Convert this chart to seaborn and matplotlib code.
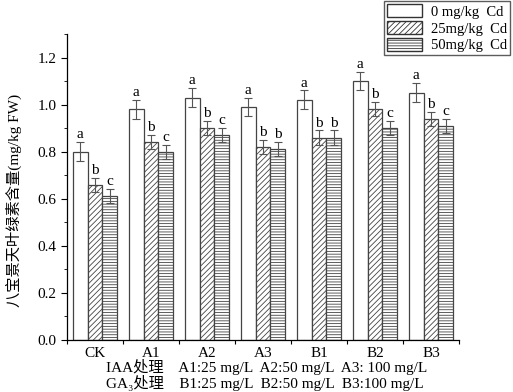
import numpy as np
import pandas as pd
import seaborn as sns
import matplotlib.pyplot as plt
from matplotlib.patches import Patch
from matplotlib.ticker import MultipleLocator

groups = ['CK', 'A1', 'A2', 'A3', 'B1', 'B2', 'B3']
levels = ['0 mg/kg  Cd', '25mg/kg  Cd', '50mg/kg  Cd']
cd0 = [0.80, 0.98, 1.03, 0.99, 1.02, 1.10, 1.05]
cd25 = [0.66, 0.84, 0.90, 0.82, 0.86, 0.98, 0.94]
cd50 = [0.61, 0.80, 0.87, 0.81, 0.86, 0.90, 0.91]
err0 = [0.04, 0.04, 0.04, 0.04, 0.04, 0.04, 0.04]
err25 = [0.03, 0.03, 0.03, 0.03, 0.03, 0.03, 0.03]
err50 = [0.03, 0.03, 0.03, 0.03, 0.03, 0.03, 0.03]
let0 = ['a', 'a', 'a', 'a', 'a', 'a', 'a']
let25 = ['b', 'b', 'b', 'b', 'b', 'b', 'b']
let50 = ['c', 'c', 'c', 'b', 'b', 'c', 'c']

df = pd.DataFrame({
    'group': groups * 3,
    'level': [levels[0]] * 7 + [levels[1]] * 7 + [levels[2]] * 7,
    'value': cd0 + cd25 + cd50,
})
errs = err0 + err25 + err50
letters = let0 + let25 + let50

plt.rcParams['font.family'] = ['Liberation Serif', 'Noto Sans CJK SC']
plt.rcParams['hatch.linewidth'] = 0.6
plt.rcParams['hatch.color'] = '#555555'

fig = plt.figure(figsize=(5.13, 3.92), dpi=100)
ax = fig.add_axes([0.1306, 0.1327, 0.764, 0.7806])

sns.barplot(data=df, x='group', y='value', hue='level', hue_order=levels,
            order=groups, palette=['white'] * 3, width=0.79, gap=0,
            errorbar=None, edgecolor='#444444', linewidth=0.9, legend=False, ax=ax)

hatches = ['', '//////', '------']
bar_conts = list(ax.containers)[:3]
for i, cont in enumerate(bar_conts):
    for j, bar in enumerate(cont):
        bar.set_hatch(hatches[i])
        k = i * 7 + j
        xc = bar.get_x() + bar.get_width() / 2
        h = bar.get_height()
        ax.errorbar(xc, h, yerr=errs[k], color='#555555', capsize=3,
                    elinewidth=0.8, capthick=0.8)
        ax.text(xc, h + errs[k] + 0.004, letters[k], ha='center', va='bottom',
                fontsize=11)

ax.set_ylim(0, 1.3)
ax.set_xlim(-0.5, 6.5)
ax.yaxis.set_major_locator(MultipleLocator(0.2))
ax.yaxis.set_minor_locator(MultipleLocator(0.1))
ax.set_yticks([0, 0.2, 0.4, 0.6, 0.8, 1.0, 1.2])
ax.set_yticklabels(['0.0', '0.2', '0.4', '0.6', '0.8', '1.0', '1.2'])
ax.set_xticks(np.arange(-0.5, 7.0, 1.0))
ax.set_xticklabels([])
ax.set_xticks(np.arange(7), minor=True)
ax.set_xticklabels(groups, minor=True)
ax.tick_params(axis='x', which='minor', length=0, pad=5, labelsize=11)
ax.tick_params(axis='x', which='major', length=3, direction='out')
ax.tick_params(axis='y', which='major', length=4, labelsize=11)
ax.tick_params(axis='y', which='minor', length=2)
for s in ['top', 'right']:
    ax.spines[s].set_visible(False)
for s in ['left', 'bottom']:
    ax.spines[s].set_linewidth(0.9)
ax.set_xlabel('')
ax.set_ylabel('八宝景天叶绿素含量(mg/kg FW)', fontsize=11)
ax.yaxis.set_label_coords(-0.115, 0.457)

fig.text(0.207, 0.064, 'IAA处理    A1:25 mg/L  A2:50 mg/L  A3: 100 mg/L',
         fontsize=11, ha='left', va='center')
fig.text(0.207, 0.022, 'GA₃处理    B1:25 mg/L  B2:50 mg/L  B3:100 mg/L',
         fontsize=11, ha='left', va='center')

handles = [Patch(facecolor='white', edgecolor='#333333', hatch=hatches[i], label=levels[i])
           for i in range(3)]
fig.legend(handles=handles, loc='upper right', bbox_to_anchor=(0.997, 1.0),
           frameon=True, fancybox=False, edgecolor='#333333', fontsize=10.5,
           handlelength=2.4, handleheight=1.0, borderpad=0.2, labelspacing=0.15,
           handletextpad=0.6, borderaxespad=0.1)

fig.savefig('out.png', dpi=100)
